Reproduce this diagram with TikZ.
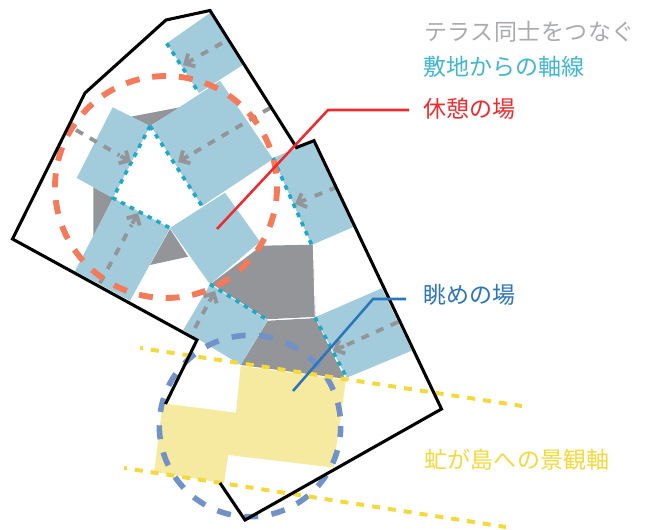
\documentclass[tikz,border=0pt]{standalone}
\usepackage{fontspec}
\setmainfont{Noto Sans CJK JP}
\usetikzlibrary{arrows.meta,calc}
\definecolor{deckblue}{HTML}{A2CCDC}
\definecolor{deckgray}{HTML}{939598}
\definecolor{deckyellow}{HTML}{F6E9A0}
\definecolor{axisteal}{HTML}{1FA9C4}
\definecolor{restred}{HTML}{EE2A2E}
\definecolor{restring}{HTML}{F47A5A}
\definecolor{viewblue}{HTML}{2B75BB}
\definecolor{viewring}{HTML}{7192C8}
\definecolor{lineyellow}{HTML}{F5D93A}
\tikzset{
  deck/.style={fill=deckblue},
  plaza/.style={fill=deckgray},
  siteaxis/.style={axisteal,line width=2.7pt,dash pattern=on 3.4pt off 4.1pt},
  deckaxis/.style={deckgray,line width=2.9pt,dash pattern=on 6pt off 6pt},
  deckhead/.style={deckgray,line width=2.9pt,-{Straight Barb[length=5.5pt,width=11pt]}},
  restcircle/.style={restring,line width=4.4pt,dash pattern=on 10.5pt off 9.6pt},
  viewcircle/.style={viewring,line width=4.2pt,dash pattern=on 10.5pt off 10.1pt,dash phase=2.25pt},
  viewline/.style={lineyellow,line width=3pt,dash pattern=on 6pt off 6pt,dash phase=3.75pt},
  leader/.style={line width=1.9pt},
  label/.style={anchor=west,inner sep=0pt,font=\fontsize{17.25pt}{20pt}\selectfont}
}
\begin{document}
\begin{tikzpicture}[x=.75pt,y=-.75pt]
  \useasboundingbox (0,0) rectangle (646,530);

  % yellow terrace
  \fill[deckyellow] (240.7,366) -- (346,380) -- (333.3,467.5) -- (228.3,455) -- (224,483.3)
    -- (154.3,471.7) -- (162.7,403.3) -- (236,412.7) -- cycle;

  % gray terraces
  \fill[plaza] (130.7,116.7) -- (180,107.3) -- (150,126) -- cycle;
  \fill[plaza] (93.3,187.3) -- (113,198) -- (93.3,236.7) -- cycle;
  \fill[plaza] (170,229) -- (188,256.7) -- (150,265) -- cycle;
  \fill[plaza] (210.7,284) -- (261.7,245.7) -- (313.3,244.7) -- (315.7,317) -- (266.7,319.3) -- cycle;
  \fill[plaza] (267.7,320.7) -- (315,318) -- (345,378.8) -- (240.7,365) -- cycle;
  \draw[white,line width=.7pt] (210.7,284) -- (267.2,320) -- (315.3,317.5) -- (313.3,244.7);

  % blue terraces
  \fill[deck] (166.7,43.3) -- (210,13) -- (242.7,65) -- (199,93) -- cycle;
  \fill[deck] (150.7,126) -- (220,80.7) -- (273,159) -- (202,206) -- cycle;
  \fill[deck] (112.7,107.3) -- (150,126) -- (113,198) -- (76.7,178) -- cycle;
  \fill[deck] (113,198) -- (170,228) -- (130,300.7) -- (75,271) -- cycle;
  \fill[deck] (170,228) -- (225,192.7) -- (260,241.7) -- (210,284.3) -- cycle;
  \fill[deck] (210,284.3) -- (267.7,320) -- (240.7,365) -- (183.3,330) -- cycle;
  \fill[deck] (273,158) -- (314,140.7) -- (354,226.7) -- (311.7,245) -- cycle;
  \fill[deck] (315,317.3) -- (381.7,288.3) -- (411.7,350.7) -- (346.7,377.7) -- cycle;

  % site axes
  \draw[siteaxis] (166.7,43.3) -- (199,93);
  \draw[siteaxis] (150,126) -- (202,206);
  \draw[siteaxis] (150,126) -- (113,198) -- (170,228);
  \draw[siteaxis] (273,158) -- (311.7,245);
  \draw[siteaxis] (210,284.3) -- (267.7,320);
  \draw[siteaxis] (315,317.3) -- (346.7,377.7);

  % deck to deck axes
  \coordinate (s1) at (222,43);
  \coordinate (t1) at (183,65);
  \coordinate (s2) at (270,108);
  \coordinate (t2) at (178,162);
  \coordinate (s3) at (76,130);
  \coordinate (t3) at (131,162);
  \coordinate (s4) at (100,283);
  \coordinate (t4) at (138,213);
  \coordinate (s5) at (337,187);
  \coordinate (t5) at (295,204);
  \coordinate (s6) at (195,328);
  \coordinate (t6) at (215,291);
  \coordinate (s7) at (398,322);
  \coordinate (t7) at (333,351);
  \foreach \i in {1,...,7} {
    \draw[deckaxis] (s\i) -- ($(t\i)!10pt!(s\i)$);
    \draw[deckhead] ($(t\i)!9pt!(s\i)$) -- (t\i);
  }

  % rings
  \draw[restcircle] (166,187) circle [radius=111];
  \draw[viewcircle] (250,426) circle [radius=90.7];

  % view lines
  \draw[viewline] (140,348) -- (522,406);
  \draw[viewline] (124,468) -- (506,527);

  % site outline
  \draw[line width=2.3pt] (220,483) -- (245,520) -- (441.5,409) -- (314,140.7) -- (296.5,147.5)
    -- (210,10.5) -- (166,20) -- (85,93) -- (12.5,239) -- (197,340) -- (165.5,404);

  % labels
  \node[label,text=deckgray!80] (deckaxes) at (424,32) {\addfontfeatures{LetterSpace=2.2}テラス同士をつなぐ};
  \node[label,text=axisteal!85] (siteaxes) at (423,67) {敷地からの軸線};
  \node[label,text=restred] (rest) at (423,109) {休憩の場};
  \node[label,text=viewblue] (view) at (423,295) {眺めの場};
  \node[label,text=lineyellow] (scenic) at (424,460) {\addfontfeatures{LetterSpace=1}虻が島への景観軸};

  % leaders
  \coordinate (restend) at (217,229);
  \coordinate (restbend) at (328,110);
  \coordinate (restfree) at (409,110);
  \coordinate (viewend) at (293,391);
  \coordinate (viewbend) at (373,299);
  \coordinate (viewfree) at (406,299);
  \draw[leader,restred] (restend) -- (restbend) -- (restfree);
  \draw[leader,viewblue] (viewend) -- (viewbend) -- (viewfree);
\end{tikzpicture}
\end{document}
